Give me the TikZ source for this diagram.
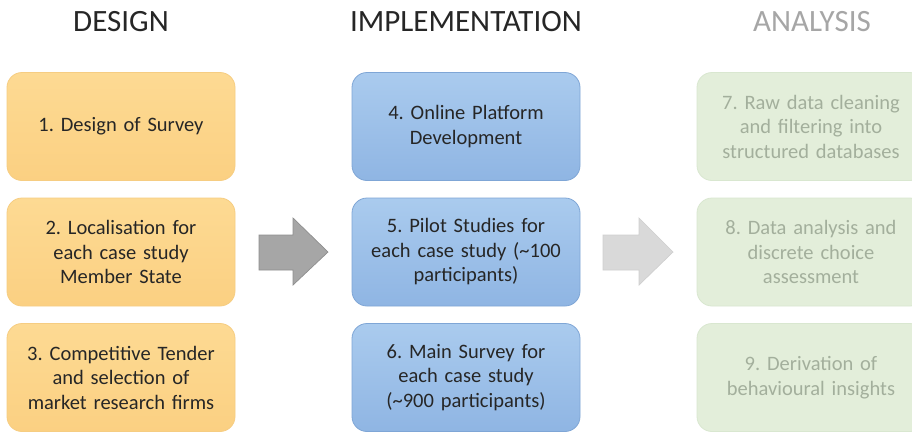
\documentclass[tikz,border=0pt]{standalone}
\usepackage{fontspec}
\setmainfont{Carlito}
\frenchspacing
\begin{document}
\begin{tikzpicture}[x=1pt,y=-1pt,
  box/.style={rectangle,rounded corners=15pt,minimum width=228pt,minimum height=108pt,
    text width=215pt,align=center,font=\fontsize{20.5}{24.5}\selectfont,inner sep=0pt},
  obox/.style={box,draw=orangeB,line width=0.8pt,top color=orangeT,bottom color=orangeF,text=txt},
  bbox/.style={box,draw=blueB,line width=0.8pt,top color=blueT,bottom color=blueF,text=txt},
  gbox/.style={box,draw=greenB,line width=0.8pt,fill=greenF,text=greenTxt},
  title/.style={font=\fontsize{31}{34}\selectfont,anchor=center}
]
\definecolor{orangeT}{HTML}{FDDA93}
\definecolor{orangeF}{HTML}{FBD082}
\definecolor{orangeB}{HTML}{F6CD82}
\definecolor{blueT}{HTML}{AACBEE}
\definecolor{blueF}{HTML}{8FB5E3}
\definecolor{blueB}{HTML}{7FA6D6}
\definecolor{greenF}{HTML}{E3EEDA}
\definecolor{greenB}{HTML}{D9E7D0}
\definecolor{greenTxt}{HTML}{A3AF9C}
\definecolor{txt}{HTML}{262626}
\definecolor{arrowA}{HTML}{A6A6A6}
\definecolor{arrowAB}{HTML}{8E8E8E}
\definecolor{arrowB}{HTML}{D9D9D9}
\definecolor{arrowBB}{HTML}{CFCFCF}
\definecolor{analysisT}{HTML}{A6A6A6}
\clip (0,0) rectangle (912,432);
\useasboundingbox (0,0) rectangle (912,432);
\fill[white] (0,0) rectangle (912,432);

\node[title,text=txt] (tD) at (121,22) {DESIGN};
\node[title,text=txt] (tI) at (466,22) {IMPLEMENTATION};
\node[title,text=analysisT] (tA) at (812,22) {ANALYSIS};

\node[obox] (b1) at (121,126.5) {1. Design of Survey};
\node[obox] (b2) at (121,252) {2. Localisation for\\each case study\\Member State};
\node[obox] (b3) at (121,377.5) {3. Competitive Tender\\and selection of\\market research firms};

\node[bbox] (b4) at (466,126.5) {4. Online Platform\\Development};
\node[bbox] (b5) at (466,252) {5. Pilot Studies for\\each case study (\textasciitilde100\\participants)};
\node[bbox] (b6) at (466,377.5) {6. Main Survey for\\each case study\\(\textasciitilde900 participants)};

\node[gbox] (b7) at (811,126.5) {7. Raw data cleaning\\and filtering into\\structured databases};
\node[gbox] (b8) at (811,252) {8. Data analysis and\\discrete choice\\assessment};
\node[gbox] (b9) at (811,377.5) {9. Derivation of\\behavioural insights};

\draw[fill=arrowA,draw=arrowAB,line width=0.7pt,line join=miter]
  (259,235) -- (293,235) -- (293,218) -- (328,252) -- (293,285) -- (293,270) -- (259,270) -- cycle;
\draw[fill=arrowB,draw=arrowBB,line width=0.7pt,line join=miter]
  (603,235) -- (639,235) -- (639,218) -- (673,252) -- (639,285) -- (639,270) -- (603,270) -- cycle;
\end{tikzpicture}
\end{document}
